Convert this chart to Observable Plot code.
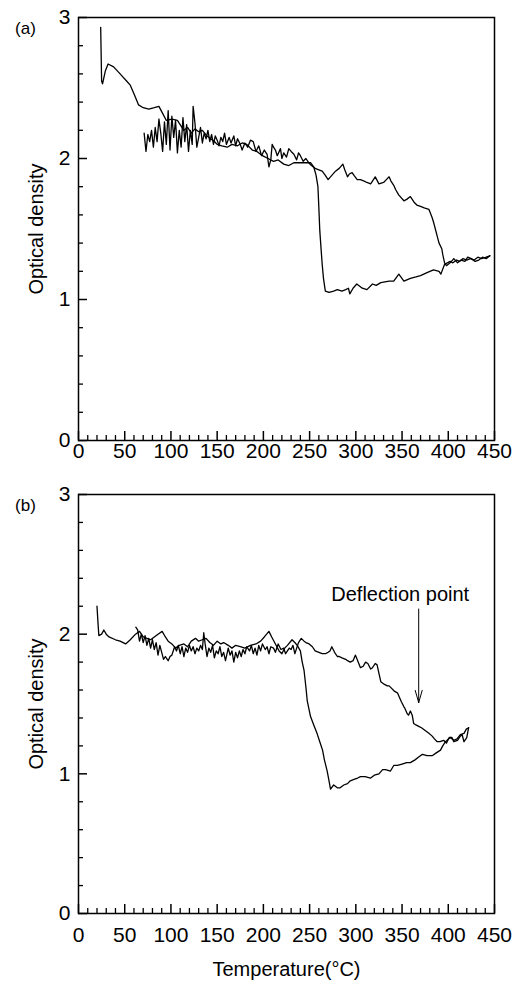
<!DOCTYPE html>
<html><head><meta charset="utf-8">
<script src="https://cdn.jsdelivr.net/npm/d3@7"></script>
<script src="https://cdn.jsdelivr.net/npm/@observablehq/plot@0.6"></script>
<style>html,body{margin:0;padding:0;background:#fff}#chart svg{display:block}</style>
</head><body><div id="chart"></div>
<script>
// ---- tick values ----
const xMajor = [0, 50, 100, 150, 200, 250, 300, 350, 400, 450];
const xMinor = [10,20,30,40,60,70,80,90,110,120,130,140,160,170,180,190,210,220,230,240,260,270,280,290,310,320,330,340,360,370,380,390,410,420,430,440];
const yMajor = [0, 1, 2, 3];
const yMinor = [0.2, 0.4, 0.6, 0.8, 1.2, 1.4, 1.6, 1.8, 2.2, 2.4, 2.6, 2.8];

// ---- panel (a): heating ----
const aHeatT = [24,25,26,29,32,38,45,52,56,60,65,70,76,82,87,91,95,101,107,111,114,118,122,126,130,134,139,143,147,150,155,161,166,172,177,182,188,193,199,205,211,216,222,227.5,233,238,245,251,254.5,257,259,260,261,262.5,263.6,265,267,271,276,280,285,289,292,293.5,297,301,307,312,318,322,327,336,341,346.5,352,359,365,370,377,384,390,392,396,399,402,405,409,412,416,420,424,428,432,436,441,445];
const aHeatOD = [2.93,2.55,2.53,2.62,2.67,2.65,2.6,2.55,2.52,2.46,2.38,2.36,2.35,2.36,2.37,2.32,2.27,2.28,2.27,2.23,2.2,2.22,2.18,2.21,2.19,2.2,2.16,2.14,2.12,2.1,2.09,2.08,2.1,2.09,2.11,2.1,2.06,2.05,2.02,2.0,1.98,1.99,1.96,1.95,1.97,1.97,1.97,1.97,1.94,1.88,1.8,1.65,1.49,1.35,1.25,1.15,1.06,1.05,1.06,1.07,1.06,1.07,1.08,1.04,1.08,1.11,1.08,1.07,1.11,1.1,1.12,1.13,1.13,1.18,1.13,1.15,1.16,1.17,1.19,1.21,1.2,1.18,1.25,1.26,1.27,1.26,1.28,1.27,1.29,1.28,1.29,1.28,1.3,1.29,1.3,1.31];

// ---- panel (a): cooling ----
const aCoolT = [445,441,437,433,429,425,421,418,414,410,406,402,398,396,394,393,390,388,386,384,382.6,379,374,370,366,363,359,355,352,348,346.5,343,341,338,336,333,330,325,321,318,316,312,309,305,301.5,298,296,293,291,288,286,282,278,274,270,267,263.6,260,256,252,249,246,243,240,238,236,233,230,227.5,225,222,220,218.5,215,213,211,209.5,208,206,204,201,198,195,192,189,186,183,180,177,175,172,170,168,165,163,160,158,156,154,152,150,148,146,144,142,140,138,136,134,132,130,128,126,124,123,121,119,117,115,113,111,109,107,105,103,101,99,97,95,93,91,89,87,85,83,81,79,77,75,73,71];
const aCoolOD = [1.31,1.29,1.3,1.28,1.27,1.29,1.3,1.27,1.28,1.26,1.29,1.26,1.24,1.26,1.32,1.36,1.4,1.45,1.5,1.55,1.58,1.64,1.65,1.66,1.67,1.69,1.73,1.71,1.7,1.73,1.74,1.78,1.81,1.84,1.87,1.85,1.83,1.82,1.87,1.84,1.82,1.83,1.84,1.85,1.85,1.88,1.9,1.89,1.87,1.92,1.96,1.93,1.91,1.88,1.85,1.88,1.91,1.92,1.93,1.95,1.97,2.0,1.98,2.02,2.04,1.99,2.03,2.05,2.07,2.01,2.04,2.0,2.07,2.02,2.06,2.08,2.1,1.99,1.94,2.03,2.06,2.02,2.09,2.05,2.12,2.13,2.08,2.11,2.06,2.1,2.14,2.09,2.16,2.11,2.15,2.1,2.18,2.12,2.15,2.09,2.13,2.16,2.1,2.17,2.12,2.2,2.14,2.18,2.11,2.22,2.15,2.08,2.25,2.37,2.1,2.2,2.05,2.24,2.12,2.29,2.08,2.2,2.04,2.27,2.15,2.3,2.06,2.34,2.1,2.26,2.05,2.18,2.28,2.12,2.22,2.08,2.2,2.12,2.17,2.05,2.18];

// ---- panel (b): heating ----
const bHeatT = [20,21,22,25,27.4,30,33,40,45,51,56,61.7,66,70,74,78,82,86,90.5,94,97,101,105,109,114,118,122,126.6,130,134,138,142,146,150,154,157,162,166,170,175,180,186,192,197,201,206,209,213,217,220,223,226,231,234,236.6,240,242,244,246,247.5,251,255,258,261,264,266,269,271,272.6,276,280,283,287,291,294,298,302,305,310,316,320,325,329,332,337.5,341,345,350,355,359,364,368,372,377,382.6,387,391.6,394,397,402,406,409.5,413,417,419.5,422];
const bHeatOD = [2.2,2.09,1.99,2.0,2.03,2.0,1.98,1.96,1.95,1.93,1.96,2.0,2.02,1.98,1.97,1.96,1.98,2.0,2.02,1.98,1.95,1.93,1.9,1.92,1.93,1.91,1.95,1.97,1.95,1.96,1.97,1.94,1.92,1.95,1.93,1.94,1.92,1.9,1.92,1.91,1.9,1.92,1.93,1.95,1.98,2.02,1.98,1.93,1.88,1.86,1.9,1.92,1.96,1.94,1.92,1.88,1.8,1.74,1.62,1.52,1.41,1.34,1.29,1.23,1.17,1.1,1.02,0.95,0.89,0.92,0.9,0.9,0.92,0.93,0.95,0.96,0.97,0.98,0.98,0.97,0.99,1.0,1.03,1.03,1.02,1.06,1.06,1.07,1.08,1.08,1.1,1.12,1.14,1.13,1.13,1.15,1.17,1.2,1.23,1.26,1.24,1.25,1.28,1.29,1.32,1.33];

// ---- panel (b): cooling ----
const bCoolT = [422,420,417,415,413,410,406,404,401,398,395,391,388,385,382.6,379,375,371,368,365,362.6,361,359,357,355.6,353,352,349,347,345,342,339,336,334,331,327,325,323,321,318,316,313,310.5,308,305,302,299.6,297,294,291,289,285,282,280,277,274,272,270,267,263.6,260,256,253,249.5,246,244,241,238,236,234,232,230,228,226,224,222,219,216,213,211,208,206,204,202,199,197,195,193,191,189,187,185,182,180,178,176,174,172,170,168,166,164,162,159,157,155,153,151,149,147,145,143,141,139,137,135.5,134,132,130,128,126,124,122,120,118,116,114,112,110,108,106,104,103,101,99,97,96,94,92,90,88,86,84,82,80,78,76,74,72,70,68,66,64,62];
const bCoolOD = [1.33,1.26,1.23,1.28,1.27,1.24,1.23,1.26,1.26,1.22,1.24,1.23,1.23,1.25,1.27,1.29,1.31,1.33,1.34,1.35,1.36,1.42,1.45,1.42,1.43,1.47,1.48,1.52,1.55,1.58,1.59,1.61,1.63,1.63,1.64,1.66,1.72,1.78,1.79,1.76,1.75,1.79,1.8,1.77,1.76,1.81,1.85,1.81,1.8,1.81,1.82,1.83,1.84,1.84,1.87,1.91,1.88,1.87,1.86,1.86,1.87,1.88,1.91,1.93,1.94,1.95,1.97,1.94,1.9,1.86,1.92,1.89,1.9,1.88,1.86,1.9,1.89,1.93,1.87,1.9,1.91,1.86,1.91,1.89,1.93,1.88,1.92,1.85,1.9,1.86,1.92,1.88,1.91,1.86,1.89,1.84,1.88,1.83,1.87,1.8,1.88,1.85,1.9,1.81,1.87,1.84,1.91,1.86,1.88,1.83,1.92,1.87,1.9,1.84,1.93,2.01,1.89,1.92,1.88,1.9,1.86,1.91,1.88,1.92,1.87,1.9,1.84,1.91,1.86,1.92,1.88,1.91,1.89,1.85,1.84,1.81,1.82,1.84,1.82,1.87,1.92,1.85,1.94,1.89,1.96,1.9,1.97,1.92,1.99,1.94,2.0,1.95,2.03,2.05];

// ---- annotation ----
const noteText = ["Deflection point"];
const noteX = [348];
const noteY = [2.28];
const arrowX = [368];
const arrowFrom = [2.18];
const arrowTo = [1.51];

const zip = (t, od) => t.map((v, i) => ({t: v, od: od[i]}));

const W = 519, ML = 78, MR = 25;
function panel({heat, cool, tag, height, marginTop, marginBottom, xPad, extra = []}) {
  const innerH = height - marginTop - marginBottom;
  const yPerPx = 3 / innerH;              // y units per pixel
  const xPerPx = 450 / (W - ML - MR);     // x units per pixel
  return Plot.plot({
    width: W, height, marginLeft: ML, marginRight: MR, marginTop, marginBottom,
    style: {fontFamily: "'Liberation Sans', Arial, Helvetica, sans-serif", fontSize: "21px", background: "#fff"},
    x: {domain: [0, 450]},
    y: {domain: [0, 3]},
    marks: [
      Plot.ruleX(xMinor, {x: d => d, y1: 0, y2: 5 * yPerPx, stroke: "black", strokeWidth: 1.3}),
      Plot.ruleX(xMajor, {x: d => d, y1: 0, y2: 9 * yPerPx, stroke: "black", strokeWidth: 1.5}),
      Plot.ruleY(yMinor, {y: d => d, x1: 0, x2: 5 * xPerPx, stroke: "black", strokeWidth: 1.3}),
      Plot.ruleY(yMajor, {y: d => d, x1: 0, x2: 9 * xPerPx, stroke: "black", strokeWidth: 1.5}),
      Plot.frame({stroke: "black", strokeWidth: 1.5}),
      Plot.axisX(xMajor, {tickSize: 0, tickPadding: xPad, label: null, tickFormat: d => String(d), fontSize: 21}),
      Plot.axisY(yMajor, {tickSize: 0, tickPadding: 8, label: null, tickFormat: d => String(d), fontSize: 21}),
      Plot.line(heat, {x: "t", y: "od", stroke: "black", strokeWidth: 1.3}),
      Plot.line(cool, {x: "t", y: "od", stroke: "black", strokeWidth: 1.3}),
      Plot.text([tag], {frameAnchor: "top-left", text: d => d, textAnchor: "middle", dx: -53, dy: 4, fontSize: 17}),
      Plot.text(["Optical density"], {frameAnchor: "left", text: d => d, rotate: -90, textAnchor: "middle", dx: -42, fontSize: 20}),
      ...extra
    ]
  });
}

const chart = document.getElementById("chart");
chart.append(panel({
  heat: zip(aHeatT, aHeatOD), cool: zip(aCoolT, aCoolOD), tag: "(a)",
  height: 464, marginTop: 17, marginBottom: 24, xPad: 3
}));
chart.append(panel({
  heat: zip(bHeatT, bHeatOD), cool: zip(bCoolT, bCoolOD), tag: "(b)",
  height: 523, marginTop: 30, marginBottom: 74, xPad: 14,
  extra: [
    Plot.text(noteText, {x: noteX, y: noteY, text: d => d, fontSize: 20}),
    Plot.arrow(arrowX, {x1: d => d, x2: d => d, y1: arrowFrom, y2: arrowTo, stroke: "black", strokeWidth: 1, headLength: 19, headAngle: 32}),
    Plot.text(["Temperature(°C)"], {frameAnchor: "bottom", text: d => d, dy: 62, fontSize: 20})
  ]
}));
</script></body></html>
